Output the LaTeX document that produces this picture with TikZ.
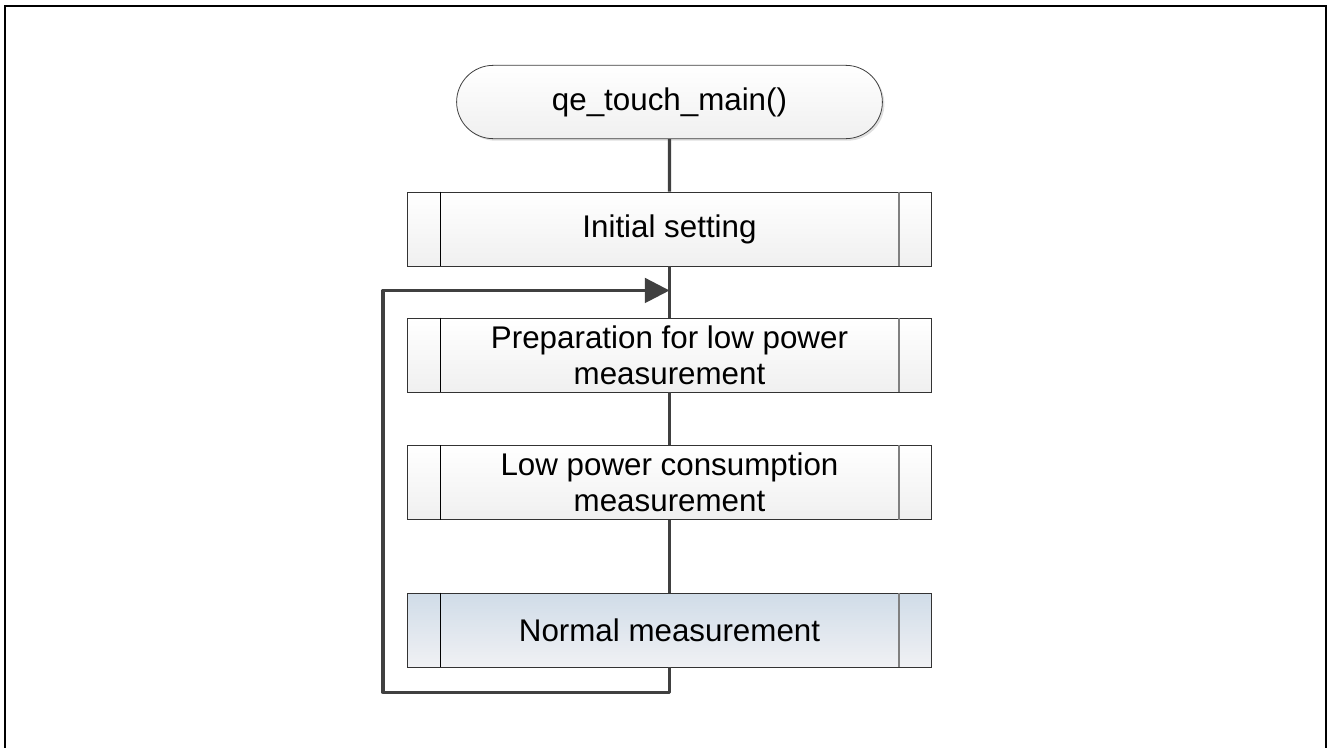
\documentclass[tikz,border=0pt]{standalone}
\usepackage{fontspec}
\setmainfont{Liberation Sans}
\usetikzlibrary{positioning,calc,arrows.meta,shapes.misc,shadows}

\begin{document}
\begin{tikzpicture}[
    x=0.75pt, y=-0.75pt,
    terminal/.style={draw=black!75, rounded rectangle, minimum width=326pt, minimum height=55pt, line width=0.6pt,
        top color=white, bottom color=black!6, font=\fontsize{23.5}{27}\selectfont,
        drop shadow={shadow xshift=1.5pt, shadow yshift=-1.5pt, opacity=0.25}},
    procbox/.style={draw=black!80, rectangle, minimum width=393pt, minimum height=55.5pt, line width=0.7pt,
        top color=white, bottom color=black!6, align=center, inner sep=1pt, font=\fontsize{23.5}{27}\selectfont},
    bluebox/.style={procbox, top color={rgb,255:red,208;green,220;blue,232}, bottom color={rgb,255:red,240;green,241;blue,244}},
    flow/.style={draw={rgb,255:red,64;green,64;blue,64}, line width=2.3pt},
    arrow/.style={flow, -{Triangle[length=18.5pt, width=18.5pt]}}
]
\useasboundingbox (0,0) rectangle (1328,747);

% Frame
\draw[line width=1.6pt] (5,6) rectangle (1326,760);

% Start
\node[terminal] (start) at (669.5,102) {qe\_touch\_main()};

% Processes
\node[procbox] (init) at (669.5,229) {Initial setting};
\node[procbox] (prep) at (669.5,355) {Preparation for low power\\measurement};
\node[procbox] (low) at (669.5,482.5) {Low power consumption\\measurement};
\node[bluebox] (norm) at (669.5,630) {Normal measurement};

% Side bars of the process boxes
\foreach \b in {init,prep,low,norm} {
    \draw[black, line width=0.6pt] ($(\b.north west)+(33,0)$) -- ($(\b.south west)+(33,0)$);
    \draw[black!50, line width=1pt] ($(\b.north east)+(-33,0)$) -- ($(\b.south east)+(-33,0)$);
}

% Flow
\coordinate (join) at ($(init.south)!0.47!(prep.north)$);
\coordinate (below) at ($(norm.south)+(0,25)$);
\coordinate (left) at (383,0);
\draw[flow] (start) -- (init);
\draw[flow] (init) -- (prep);
\draw[flow] (prep) -- (low);
\draw[flow] (low) -- (norm);

% Loop back
\draw[arrow, line join=round] (norm.south) -- (below) -| (left |- below) |- (join);

\end{tikzpicture}
\end{document}
